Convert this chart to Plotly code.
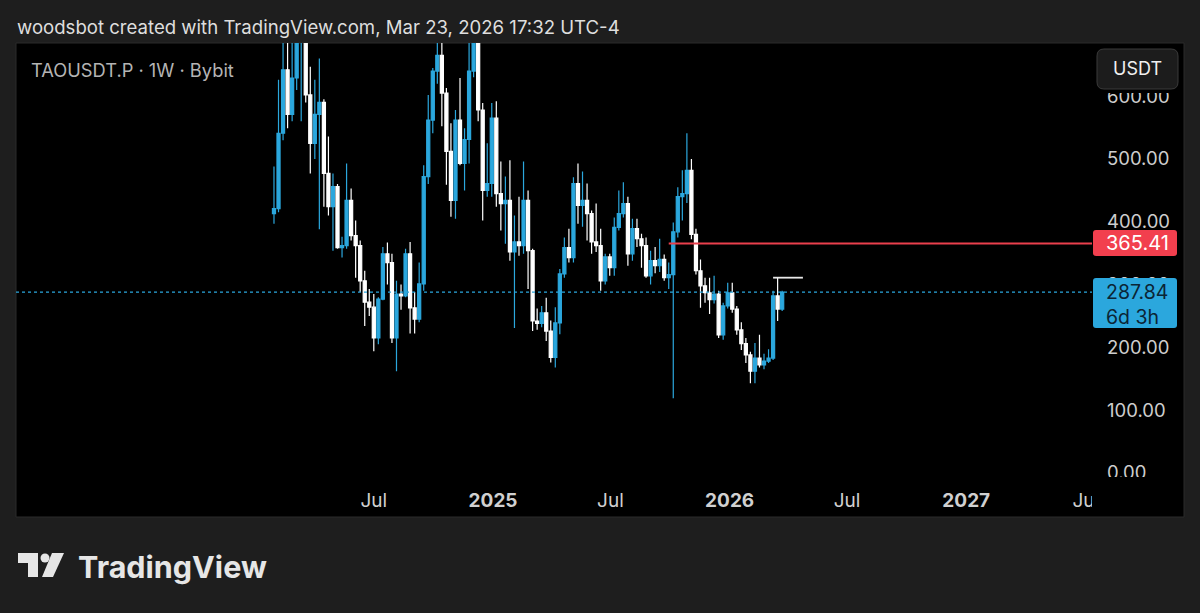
import pandas as pd
import plotly.graph_objects as go

# TAOUSDT.P weekly candles (Bybit), first week starts 2024-01-29
opens = [413, 421, 541, 642, 571, 629, 700, 712, 602, 525, 571, 590, 477, 424, 456, 359,
         362, 434, 378, 362, 306, 272, 264, 215, 277, 349, 335, 215, 285, 282, 349, 263,
         245, 301, 472, 562, 640, 665, 605, 512, 434, 562, 493, 531, 640, 700, 578, 450,
         461, 565, 445, 429, 434, 352, 368, 362, 434, 354, 242, 238, 255, 226, 184, 239,
         317, 359, 343, 461, 426, 434, 413, 368, 362, 306, 344, 327, 391, 413, 429, 349,
         389, 373, 362, 314, 338, 330, 340, 311, 316, 384, 440, 445, 482, 380, 322, 298,
         287, 276, 285, 220, 266, 287, 261, 228, 206, 188, 162, 183, 172, 178, 183, 282, 261]
highs = [488, 626, 705, 720, 700, 740, 760, 740, 647, 626, 660, 595, 536, 477, 460, 376,
         493, 453, 402, 370, 322, 293, 285, 280, 360, 367, 349, 306, 300, 357, 368, 288,
         335, 490, 602, 645, 740, 690, 613, 557, 578, 629, 549, 685, 760, 730, 589, 525,
         589, 592, 496, 472, 498, 410, 440, 496, 450, 357, 262, 266, 279, 243, 264, 325,
         375, 389, 471, 493, 480, 461, 418, 429, 389, 349, 349, 407, 450, 463, 440, 405,
         405, 381, 375, 354, 360, 373, 348, 335, 399, 455, 482, 541, 500, 389, 340, 311,
         311, 314, 290, 271, 303, 303, 266, 240, 215, 193, 207, 220, 190, 197, 290, 311, 290]
lows = [397, 415, 530, 549, 560, 610, 560, 590, 477, 500, 388, 424, 410, 354, 357, 343,
        357, 370, 311, 288, 234, 250, 194, 205, 275, 300, 207, 162, 260, 280, 222, 222,
        240, 290, 460, 541, 620, 552, 459, 408, 405, 490, 450, 493, 630, 560, 402, 440,
        440, 424, 386, 365, 338, 231, 346, 349, 293, 226, 228, 232, 210, 176, 168, 221,
        311, 335, 335, 397, 392, 370, 349, 352, 290, 300, 314, 314, 386, 407, 330, 338,
        360, 327, 311, 300, 318, 320, 306, 293, 119, 375, 402, 430, 372, 316, 263, 271,
        253, 270, 215, 212, 262, 255, 220, 196, 175, 143, 143, 168, 165, 175, 180, 242, 258]
closes = [421, 541, 642, 571, 629, 700, 712, 602, 525, 571, 590, 477, 424, 456, 359, 362,
          434, 378, 362, 306, 272, 264, 215, 277, 349, 335, 215, 285, 282, 349, 263, 245,
          301, 472, 562, 640, 665, 605, 512, 434, 562, 493, 531, 640, 700, 578, 450, 461,
          565, 445, 429, 434, 352, 368, 362, 434, 354, 242, 238, 255, 226, 184, 239, 317,
          359, 343, 461, 426, 434, 413, 368, 362, 306, 344, 327, 391, 413, 429, 349, 389,
          373, 362, 314, 338, 330, 340, 311, 316, 384, 440, 445, 482, 380, 322, 298, 287,
          276, 285, 220, 266, 287, 261, 228, 206, 188, 162, 183, 172, 178, 183, 282, 261, 287.84]

weeks = pd.date_range("2024-01-29", periods=len(closes), freq="7D")

last_price = 287.84
countdown = "6d 3h"
red_level = 365.41
red_start = "2025-09-29"
white_level = 311
white_start = "2026-03-09"
white_end = "2026-04-24"

tick_dates = ["2024-07-01", "2025-01-01", "2025-07-01", "2026-01-01",
              "2026-07-01", "2027-01-01", "2027-07-01"]
tick_text = ["Jul", "<b>2025</b>", "Jul", "<b>2026</b>", "Jul", "<b>2027</b>", "Ju"]
price_ticks = [0, 100, 200, 300, 400, 500, 600]

BLUE = "#2ba7dd"
WHITE = "#ffffff"
RED = "#f23f4e"
BG = "#1e1e1e"

# pixel -> paper helpers (plot area is x 16..1092, y 43..478)
def px(x):
    return (x - 16) / 1076

def py(y):
    return (478 - y) / 435

fig = go.Figure(go.Candlestick(
    x=weeks, open=opens, high=highs, low=lows, close=closes,
    increasing=dict(line=dict(color=BLUE, width=1.2), fillcolor=BLUE),
    decreasing=dict(line=dict(color=WHITE, width=1.2), fillcolor=WHITE),
    whiskerwidth=0, hoverinfo="skip", showlegend=False,
))

shapes = [
    # black chart pane incl. price scale and time scale
    dict(type="rect", xref="paper", yref="paper", x0=px(16), x1=px(1184), y0=py(517), y1=py(43),
         fillcolor="#000000", line=dict(color="#2b2b2b", width=1), layer="below"),
    # last price dotted line
    dict(type="line", xref="paper", yref="y", x0=0, x1=1, y0=last_price, y1=last_price,
         line=dict(color=BLUE, width=1.2, dash="dot")),
    # horizontal rays
    dict(type="line", xref="x", yref="y", x0=red_start, x1="2027-12-31", y0=red_level, y1=red_level,
         line=dict(color="#ea3f4c", width=2)),
    dict(type="line", xref="x", yref="y", x0=white_start, x1=white_end, y0=white_level, y1=white_level,
         line=dict(color="#e8e8e8", width=1.8)),
    # clip price labels at the pane edges
    dict(type="rect", xref="paper", yref="paper", x0=px(1092), x1=px(1183), y0=py(93), y1=py(44),
         fillcolor="#000000", line=dict(width=0), layer="above"),
    dict(type="rect", xref="paper", yref="paper", x0=px(1092), x1=px(1183), y0=py(516), y1=py(477),
         fillcolor="#000000", line=dict(width=0), layer="above"),
]


def rounded(x0, y0, x1, y1, r):
    # rounded rect in pixels -> paper path
    pts = [f"M{px(x0 + r)},{py(y0)}", f"L{px(x1 - r)},{py(y0)}",
           f"Q{px(x1)},{py(y0)} {px(x1)},{py(y0 + r)}", f"L{px(x1)},{py(y1 - r)}",
           f"Q{px(x1)},{py(y1)} {px(x1 - r)},{py(y1)}", f"L{px(x0 + r)},{py(y1)}",
           f"Q{px(x0)},{py(y1)} {px(x0)},{py(y1 - r)}", f"L{px(x0)},{py(y0 + r)}",
           f"Q{px(x0)},{py(y0)} {px(x0 + r)},{py(y0)} Z"]
    return " ".join(pts)


shapes.append(dict(type="path", xref="paper", yref="paper", path=rounded(1097, 49, 1178, 89, 7),
                   fillcolor="#1c1c1c", line=dict(color="#3a3a3a", width=1), layer="above"))
shapes.append(dict(type="path", xref="paper", yref="paper", path=rounded(1093, 230, 1177, 256, 3),
                   fillcolor=RED, line=dict(width=0), layer="above"))
shapes.append(dict(type="path", xref="paper", yref="paper", path=rounded(1093, 278, 1177, 328, 3),
                   fillcolor=BLUE, line=dict(width=0), layer="above"))

# TradingView logo glyph
logo = "#e6e6e6"
shapes.append(dict(type="path", xref="paper", yref="paper",
                   path=f"M{px(18)},{py(553)} L{px(38)},{py(553)} L{px(38)},{py(577)} L{px(28)},{py(577)} "
                        f"L{px(28)},{py(563)} L{px(18)},{py(563)} Z",
                   fillcolor=logo, line=dict(width=0)))
shapes.append(dict(type="circle", xref="paper", yref="paper", x0=px(40.5), x1=px(49.5), y0=py(562.5), y1=py(553.5),
                   fillcolor=logo, line=dict(width=0)))
shapes.append(dict(type="path", xref="paper", yref="paper",
                   path=f"M{px(52)},{py(553)} L{px(64)},{py(553)} L{px(53)},{py(577)} L{px(42)},{py(577)} Z",
                   fillcolor=logo, line=dict(width=0)))

annotations = [
    dict(text="woodsbot created with TradingView.com, Mar 23, 2026 17:32 UTC-4", xref="paper", yref="paper",
         x=px(15), y=py(27), xanchor="left", yanchor="middle", showarrow=False,
         font=dict(size=18.6, color="#dedede", family="Inter")),
    dict(text="TAOUSDT.P · 1W · Bybit", xref="paper", yref="paper", x=px(29), y=py(70),
         xanchor="left", yanchor="middle", showarrow=False,
         font=dict(size=18.3, color="#b4b4b4", family="Inter")),
    dict(text="USDT", xref="paper", yref="paper", x=px(1137.5), y=py(69), xanchor="center", yanchor="middle",
         showarrow=False, font=dict(size=18, color="#f0f0f0", family="Inter")),
    dict(text=f"{red_level:.2f}", xref="paper", yref="paper", x=px(1104), y=py(243), xanchor="left",
         yanchor="middle", showarrow=False, font=dict(size=20, color="#ffffff", family="Inter")),
    dict(text=f"{last_price:.2f}<br>{countdown}", xref="paper", yref="paper", x=px(1104), y=py(304),
         xanchor="left", yanchor="middle", align="left", showarrow=False,
         font=dict(size=19.5, color="#0b2535", family="Inter")),
    dict(text="<b>TradingView</b>", xref="paper", yref="paper", x=px(76), y=py(566), xanchor="left",
         yanchor="middle", showarrow=False, font=dict(size=30.5, color=logo, family="Inter")),
]

fig.update_layout(
    width=1200, height=613,
    margin=dict(l=16, r=108, t=43, b=135),
    paper_bgcolor=BG, plot_bgcolor="#000000",
    boxgap=0.2, boxgroupgap=0.15,
    shapes=shapes, annotations=annotations,
    font=dict(family="Inter", color="#cfcfcf"),
    xaxis=dict(type="date", range=["2022-12-27", "2027-07-14"], rangeslider=dict(visible=False),
               tickvals=tick_dates, ticktext=tick_text, showgrid=False, zeroline=False,
               showline=False, ticks="", ticklabelstandoff=9,
               tickfont=dict(size=19, color="#d0d0d0", family="Inter")),
    yaxis=dict(side="right", range=[-8, 684.7], tickvals=price_ticks, tickformat=".2f",
               showgrid=False, zeroline=False, showline=False, ticks="", ticklabelstandoff=14,
               tickfont=dict(size=18.5, color="#cdcdcd", family="Inter")),
)

# the page is photographed edge to edge, so drop the default body margin
fig.write_html("out.html", config={"displayModeBar": False},
               post_script="document.body.style.margin='0';"
                           "document.body.style.background='#1e1e1e';")
